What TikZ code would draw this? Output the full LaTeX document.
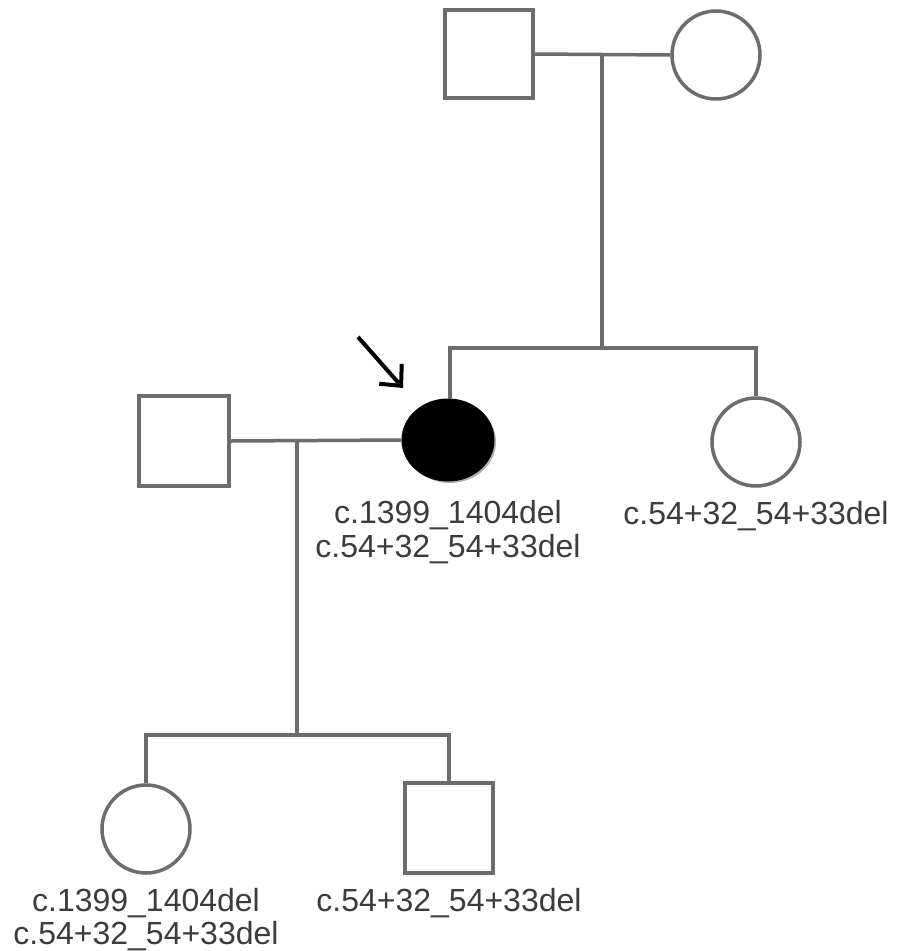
\documentclass[tikz,border=0pt]{standalone}
\usepackage{fontspec}
\setmainfont{Liberation Sans}
\usepackage{tikz}
\usetikzlibrary{positioning, arrows.meta, shapes.geometric, shadows}
\definecolor{lineGrey}{RGB}{108,108,108}
\definecolor{textGrey}{RGB}{60,60,60}

\begin{document}
\begin{tikzpicture}[x=1pt, y=-1pt,
  font=\fontsize{32}{36}\selectfont,
  male/.style={draw=lineGrey, line width=3.5pt, fill=white, rectangle, minimum size=88pt, inner sep=0pt},
  female/.style={draw=lineGrey, line width=3.5pt, fill=white, circle, minimum size=88pt, inner sep=0pt},
  link/.style={draw=lineGrey, line width=3.5pt},
  lbl/.style={textGrey, align=center, inner sep=0pt}]
\useasboundingbox (0,0) rectangle (898,951);

% Grandparents
\node[male]   (grandpa) at (489,54) {};
\node[female] (grandma) at (716,55) {};

% Second generation
\node[ellipse, fill=black, draw=black, line width=1pt, minimum width=92pt, minimum height=82pt,
      drop shadow={shadow xshift=2pt, shadow yshift=-2pt, fill=gray!60, opacity=1}] (proband) at (448,440) {};
\node[female] (sister)  at (756,442) {};
\node[male, minimum size=90pt] (husband) at (184,441) {};

% Third generation
\node[female] (daughter) at (146,829) {};
\node[male, minimum height=90pt] (son) at (449,828) {};

% Lines of descent
\coordinate (mate1) at (602,55);
\coordinate (sibs1) at (602,348);
\coordinate (mate2) at (297,441);
\coordinate (sibs2) at (297,735);
\draw[link] (grandpa.east) -- (grandma.west);
\draw[link] (mate1) -- (sibs1);
\draw[link] ([xshift=2pt]proband.north) |- (sibs1) -| (sister.north);
\draw[link] (husband.east) -- (proband.west);
\draw[link] (mate2) -- (sibs2);
\draw[link] (daughter.north) |- (sibs2) -| (son.north);

% Proband arrow
\coordinate (arrowTail) at (358,337);
\coordinate (arrowHead) at (403,388);
\draw[line width=4pt, -{Straight Barb[length=16pt, width=30pt]}] (arrowTail) -- (arrowHead);

% Genotypes
\node[lbl, below=19pt of proband] (probandGt) {c.1399\_1404del\\[-2pt]c.54+32\_54+33del};
\node[lbl, below=13pt of sister] (sisterGt) {c.54+32\_54+33del};
\node[lbl, below=13pt of daughter] (daughterGt) {c.1399\_1404del\\[-3pt]c.54+32\_54+33del};
\node[lbl, below=13pt of son] (sonGt) {c.54+32\_54+33del};
\end{tikzpicture}
\end{document}
